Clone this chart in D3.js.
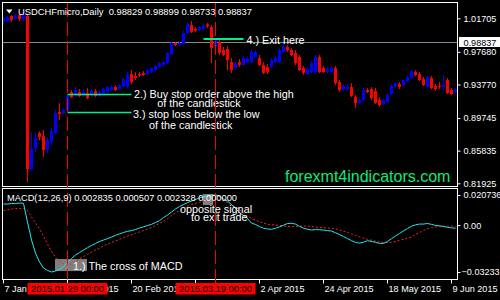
<!DOCTYPE html>
<html><head><meta charset="utf-8">
<script src="https://cdn.jsdelivr.net/npm/d3@7"></script>
<style>html,body{margin:0;padding:0;background:#000;overflow:hidden}</style>
</head><body><svg id="c" width="500" height="300"></svg>
<script>
// ---------- data ----------
const barCount = 114;
const extraSundays = ["2015-03-08", "2015-03-15", "2015-03-22"];
const openP = [1.0126,1.0138,1.0198,1.0162,1.0210,1.0150,1.0198,0.8362,0.8614,0.8794,0.8758,0.8590,0.8686,0.8794,0.9046,0.9034,0.9070,0.9286,0.9250,0.9286,0.9250,0.9274,0.9250,0.9298,0.9238,0.9274,0.9286,0.9310,0.9346,0.9322,0.9358,0.9346,0.9502,0.9478,0.9502,0.9514,0.9502,0.9526,0.9550,0.9586,0.9610,0.9634,0.9742,0.9874,0.9850,0.9862,0.9994,1.0090,1.0042,1.0030,1.0042,1.0096,1.0066,0.9826,0.9886,0.9790,0.9802,0.9646,0.9574,0.9646,0.9610,0.9646,0.9646,0.9706,0.9694,0.9610,0.9586,0.9586,0.9646,0.9646,0.9766,0.9826,0.9790,0.9754,0.9706,0.9574,0.9502,0.9526,0.9526,0.9706,0.9574,0.9526,0.9526,0.9574,0.9406,0.9310,0.9322,0.9346,0.9226,0.9154,0.9190,0.9310,0.9322,0.9298,0.9190,0.9142,0.9166,0.9262,0.9358,0.9382,0.9370,0.9418,0.9454,0.9526,0.9502,0.9442,0.9346,0.9454,0.9358,0.9358,0.9346,0.9430,0.9310,0.9286];
const highP = [1.0186,1.0198,1.0210,1.0222,1.0222,1.0234,1.0210,0.8806,0.8806,0.8818,0.8830,0.8746,0.8854,0.9070,0.9154,0.9094,0.9258,0.9310,0.9346,0.9322,0.9322,0.9334,0.9322,0.9322,0.9310,0.9334,0.9358,0.9370,0.9370,0.9382,0.9454,0.9526,0.9550,0.9526,0.9526,0.9538,0.9562,0.9586,0.9610,0.9646,0.9658,0.9766,0.9886,0.9886,0.9886,1.0018,1.0126,1.0138,1.0066,1.0078,1.0102,1.0114,1.0090,0.9934,0.9910,0.9826,0.9838,0.9694,0.9646,0.9682,0.9718,0.9706,0.9790,0.9790,0.9730,0.9646,0.9622,0.9694,0.9718,0.9814,0.9874,0.9850,0.9814,0.9790,0.9730,0.9598,0.9586,0.9658,0.9730,0.9730,0.9598,0.9586,0.9598,0.9598,0.9430,0.9382,0.9370,0.9394,0.9250,0.9214,0.9334,0.9334,0.9346,0.9334,0.9226,0.9202,0.9274,0.9382,0.9406,0.9406,0.9442,0.9478,0.9550,0.9550,0.9526,0.9466,0.9478,0.9478,0.9382,0.9406,0.9490,0.9454,0.9334,0.9334];
const lowP = [1.0090,1.0126,1.0126,1.0150,1.0138,1.0138,0.8206,0.8350,0.8566,0.8710,0.8506,0.8554,0.8650,0.8782,0.8950,0.9022,0.9042,0.9214,0.9226,0.9226,0.9226,0.9202,0.9226,0.9226,0.9226,0.9262,0.9274,0.9298,0.9298,0.9310,0.9346,0.9334,0.9382,0.9430,0.9466,0.9478,0.9490,0.9514,0.9538,0.9574,0.9598,0.9622,0.9730,0.9838,0.9838,0.9850,0.9982,0.9994,1.0006,1.0018,1.0030,1.0054,0.9634,0.9814,0.9730,0.9718,0.9550,0.9514,0.9550,0.9586,0.9598,0.9634,0.9634,0.9694,0.9598,0.9502,0.9502,0.9574,0.9634,0.9634,0.9754,0.9766,0.9718,0.9610,0.9538,0.9490,0.9490,0.9514,0.9502,0.9514,0.9514,0.9514,0.9514,0.9370,0.9286,0.9298,0.9310,0.9226,0.9094,0.9142,0.9178,0.9274,0.9190,0.9142,0.9106,0.9130,0.9154,0.9250,0.9346,0.9322,0.9358,0.9406,0.9442,0.9478,0.9418,0.9358,0.9334,0.9322,0.9298,0.9322,0.9310,0.9262,0.9250,0.9274];
const closeP = [1.0174,1.0186,1.0150,1.0210,1.0162,1.0210,0.8362,0.8602,0.8734,0.8746,0.8590,0.8710,0.8818,0.9034,0.9022,0.9070,0.9238,0.9226,0.9310,0.9238,0.9286,0.9214,0.9298,0.9238,0.9286,0.9322,0.9346,0.9346,0.9310,0.9370,0.9442,0.9490,0.9406,0.9454,0.9484,0.9490,0.9550,0.9574,0.9598,0.9634,0.9646,0.9754,0.9874,0.9850,0.9874,0.9994,1.0102,1.0006,1.0024,1.0066,1.0078,1.0072,0.9814,0.9910,0.9754,0.9730,0.9670,0.9550,0.9622,0.9610,0.9694,0.9682,0.9766,0.9766,0.9610,0.9514,0.9526,0.9670,0.9694,0.9790,0.9826,0.9790,0.9730,0.9634,0.9550,0.9514,0.9562,0.9634,0.9706,0.9526,0.9526,0.9562,0.9574,0.9394,0.9310,0.9358,0.9346,0.9238,0.9154,0.9190,0.9310,0.9286,0.9214,0.9154,0.9130,0.9190,0.9250,0.9358,0.9394,0.9346,0.9430,0.9466,0.9538,0.9490,0.9430,0.9370,0.9466,0.9334,0.9322,0.9346,0.9370,0.9274,0.9262,0.9322];
const macdMain = [0.0145,0.0145,0.0149,0.0149,0.0152,0.0150,0.0021,-0.0103,-0.0193,-0.0255,-0.0296,-0.0312,-0.032331,-0.0316,-0.0306,-0.0286,-0.0258,-0.0230,-0.0206,-0.0189,-0.0172,-0.0156,-0.0140,-0.0127,-0.0113,-0.0103,-0.0093,-0.0082,-0.0071,-0.0060,-0.0051,-0.0043,-0.0038,-0.0031,-0.0020,-0.0012,-0.0003,0.0005,0.0018,0.0031,0.0052,0.0069,0.0090,0.0111,0.0128,0.0142,0.0155,0.0166,0.0176,0.0188,0.0195,0.0200,0.0205,0.020736,0.0197,0.0179,0.0166,0.0142,0.0114,0.0086,0.0066,0.0045,0.0014,0.0004,-0.0010,-0.0022,-0.0027,-0.0029,-0.0022,-0.0012,-0.0001,0.0011,0.0012,0.0007,-0.0009,-0.0022,-0.0029,-0.0034,-0.0031,-0.0032,-0.0034,-0.0038,-0.0041,-0.0053,-0.0065,-0.0079,-0.0093,-0.0107,-0.0120,-0.0124,-0.0118,-0.0108,-0.0112,-0.0119,-0.0126,-0.0126,-0.0113,-0.0094,-0.0075,-0.0058,-0.0040,-0.0024,-0.0008,0.0002,0.0007,0.0007,0.0011,0.0005,-0.0002,-0.0005,-0.0010,-0.0015,-0.0019,-0.0022];
const macdSignal = [0.0099,0.0105,0.0111,0.0114,0.0115,0.0115,0.0100,0.0055,0.0014,-0.0027,-0.0075,-0.0131,-0.0182,-0.0220,-0.0248,-0.0268,-0.0275,-0.0268,-0.0251,-0.0233,-0.0217,-0.0200,-0.0186,-0.0172,-0.0160,-0.0144,-0.0131,-0.0120,-0.0109,-0.0098,-0.0086,-0.0075,-0.0067,-0.0057,-0.0048,-0.0038,-0.0027,-0.0017,-0.0003,0.0011,0.0028,0.0045,0.0066,0.0083,0.0100,0.0117,0.0131,0.0142,0.0148,0.0157,0.0164,0.0170,0.0175,0.0176,0.0173,0.0166,0.0155,0.0142,0.0124,0.0104,0.0083,0.0062,0.0045,0.0035,0.0022,0.0013,0.0006,0.0003,0.0000,-0.0003,-0.0006,-0.0009,-0.0011,-0.0010,-0.0007,-0.0007,-0.0007,-0.0011,-0.0013,-0.0016,-0.0018,-0.0020,-0.0022,-0.0027,-0.0033,-0.0042,-0.0051,-0.0060,-0.0072,-0.0082,-0.0090,-0.0098,-0.0104,-0.0111,-0.0117,-0.0121,-0.0120,-0.0118,-0.0113,-0.0105,-0.0098,-0.0091,-0.0081,-0.0065,-0.0051,-0.0038,-0.0026,-0.0017,-0.0012,-0.0010,-0.0007,-0.0007,-0.0007,-0.0010];
const priceTicks = [1.01705, 0.97680, 0.93770, 0.89745, 0.85835, 0.81925];
const macdTicks = [0.020736, 0.00, -0.032331];
const timeTickIdx = [0, 16, 32, 48, 64, 80, 96, 112];
const timeTickLabels = ["7 Jan", "29 Jan 2015", "20 Feb 2015", "13 Mar 2015", "2 Apr 2015", "24 Apr 2015", "18 May 2015", "9 Jun 2015"];
const currentPrice = 0.98837;
const titleText = "USDCHFmicro,Daily  0.98829 0.98899 0.98733 0.98837";
const macdTitle = "MACD(12,26,9) 0.002835 0.000507 0.002328 0.000000";
const vLineIdx = [16, 53];
const vLineLabels = ["2015.01.29 00:00", "2015.03.19 00:00"];
const greenLines = [{i0:16, i1:32, p:0.9258}, {i0:16, i1:32, p:0.9042}, {i0:50, i1:60, p:0.9922}];
const priceNotes = [
  {i:33, p:0.9214, t:"2.) Buy stop order above the high"},
  {i:38.8, p:0.9106, t:"of the candlestick"},
  {i:32.75, p:0.8974, t:"3.) stop loss below the low"},
  {i:36.75, p:0.8842, t:"of the candlestick"},
  {i:61.1, p:0.9862, t:"4.) Exit here"}];
const macdNotes = [
  {i:17.75, v:-0.03128, t:"1.) The cross of MACD"},
  {i:44.5, v:0.00833, t:"opposite signal"},
  {i:47.25, v:0.00282, t:"to exit trade"}];
const macdBoxes = [{i0:13.25, i1:21.25, v0:-0.0317, v1:-0.0234}, {i0:50.2, i1:52.8, v0:0.0138, v1:0.0214}];

// ---------- build ----------
const dates = [];
let dt = new Date(Date.UTC(2015, 0, 7));
while (dates.length < barCount) {
  const iso = dt.toISOString().slice(0, 10), wd = dt.getUTCDay();
  if ((wd > 0 && wd < 6) || extraSundays.includes(iso)) dates.push(iso);
  dt = new Date(dt.getTime() + 864e5);
}
const bars = dates.map((d, i) => ({d, o:openP[i], h:highP[i], l:lowP[i], c:closeP[i], m:macdMain[i], s:macdSignal[i]}));

const svg = d3.select("#c");
const FONT = "'Liberation Sans', Arial, sans-serif";
const L = 2.5, R = 457.5, T1 = 2.5, B1 = 186.5, T2 = 188.5, B2 = 279.5;

const x = d3.scaleBand().domain(dates).range([2, 2 + 4 * barCount]).paddingInner(0).paddingOuter(0);
const xAt = i => x(dates[Math.floor(i)]) + (i % 1) * x.step();
const y = d3.scaleLinear().domain([0.81925, 1.01705]).range([183.3, 18.3]);
const ym = d3.scaleLinear().domain([-0.032331, 0.020736]).range([272, 195]);

svg.append("rect").attr("width", 500).attr("height", 300).attr("fill", "#000");
const defs = svg.append("defs");
defs.append("clipPath").attr("id", "cm").append("rect").attr("x", 3).attr("y", 3).attr("width", 454).attr("height", 183);
defs.append("clipPath").attr("id", "cd").append("rect").attr("x", 3).attr("y", 189).attr("width", 454).attr("height", 90);

// frames
svg.append("rect").attr("x", L).attr("y", T1).attr("width", R - L).attr("height", B1 - T1).attr("fill", "none").attr("stroke", "#fff");
svg.append("rect").attr("x", L).attr("y", T2).attr("width", R - L).attr("height", B2 - T2).attr("fill", "none").attr("stroke", "#fff");

const gm = svg.append("g").attr("clip-path", "url(#cm)");
// current price line
gm.append("line").attr("x1", L).attr("x2", R).attr("y1", Math.round(y(currentPrice)) + 0.5).attr("y2", Math.round(y(currentPrice)) + 0.5).attr("stroke", "#7f8b9b");

// candles
const col = b => b.c >= b.o ? "#0000ff" : "#ff0000";
gm.selectAll("line.wick").data(bars).join("line").attr("class", "wick")
  .attr("x1", b => x(b.d) + 1.5).attr("x2", b => x(b.d) + 1.5)
  .attr("y1", b => y(b.h)).attr("y2", b => y(b.l)).attr("stroke", col);
gm.selectAll("rect.body").data(bars).join("rect").attr("class", "body")
  .attr("x", b => x(b.d)).attr("width", 3)
  .attr("y", b => Math.min(y(b.o), y(b.c)))
  .attr("height", b => Math.max(1, Math.abs(y(b.o) - y(b.c))))
  .attr("fill", col);

// green trend lines
gm.selectAll("line.gl").data(greenLines).join("line").attr("class", "gl")
  .attr("x1", g => x(dates[g.i0]) + 1.5).attr("x2", g => x(dates[g.i1]) + 1.5)
  .attr("y1", g => y(g.p)).attr("y2", g => y(g.p))
  .attr("stroke", "#00f080").attr("stroke-width", (g, i) => i === 2 ? 2 : 1.5);

// watermark
svg.append("text").attr("x", xAt(70.75)).attr("y", y(0.8206)).text("forexmt4indicators.com")
  .attr("font-family", FONT).attr("font-size", 16).attr("fill", "#10e878");

// notes in main window
svg.selectAll("text.pn").data(priceNotes).join("text").attr("class", "pn")
  .attr("x", n => xAt(n.i)).attr("y", n => y(n.p)).text(n => n.t)
  .attr("font-family", FONT).attr("font-size", 10.8).attr("fill", "#fff");

// MACD
const gd = svg.append("g").attr("clip-path", "url(#cd)");
gd.selectAll("rect.box").data(macdBoxes).join("rect").attr("class", "box")
  .attr("x", b => xAt(b.i0)).attr("width", b => xAt(b.i1) - xAt(b.i0))
  .attr("y", b => ym(b.v1)).attr("height", b => ym(b.v0) - ym(b.v1)).attr("fill", "#808080");
gd.append("path").datum(bars).attr("fill", "none").attr("stroke", "#ff2020").attr("stroke-dasharray", "2,2")
  .attr("d", d3.line().x(b => x(b.d) + 1.5).y(b => ym(b.s)));
gd.append("path").datum(bars).attr("fill", "none").attr("stroke", "#20e8f0")
  .attr("d", d3.line().x(b => x(b.d) + 1.5).y(b => ym(b.m)));

svg.selectAll("text.mn").data(macdNotes).join("text").attr("class", "mn")
  .attr("x", n => xAt(n.i)).attr("y", n => ym(n.v)).text(n => n.t)
  .attr("font-family", FONT).attr("font-size", 10.8).attr("fill", "#fff");

// vertical dashed lines
svg.selectAll("line.vl").data(vLineIdx).join("line").attr("class", "vl")
  .attr("x1", i => x(dates[i]) + 1.5).attr("x2", i => x(dates[i]) + 1.5)
  .attr("y1", 3).attr("y2", 283).attr("stroke", "#ff0000").attr("stroke-dasharray", "14,5");

// headers
svg.append("path").attr("d", "M6,9.5L12.5,9.5L9.25,13.5Z").attr("fill", "#fff");
svg.append("text").attr("x", 18).attr("y", 14.5).text(titleText).attr("xml:space", "preserve").style("white-space", "pre")
  .attr("font-family", FONT).attr("font-size", 9.4).attr("fill", "#fff");
svg.append("text").attr("x", 7).attr("y", 200.5).text(macdTitle)
  .attr("font-family", FONT).attr("font-size", 9.3).attr("fill", "#fff");

// price axis
const ay = svg.append("g").attr("transform", `translate(${R},0)`)
  .call(d3.axisRight(y).tickValues(priceTicks).tickFormat(d3.format(".5f")).tickSize(3));
const aym = svg.append("g").attr("transform", `translate(${R},0)`)
  .call(d3.axisRight(ym).tickValues(macdTicks).tickFormat(v => v === 0 ? "0.00" : d3.format(".6f")(v)).tickSize(3));
aym.selectAll(".tick").filter(v => v < 0).select("text").attr("x", 4);
// time axis
const ax = svg.append("g").attr("transform", `translate(0,${B2})`)
  .call(d3.axisBottom(x).tickValues(timeTickIdx.map(i => dates[i])).tickFormat((d, k) => timeTickLabels[k]).tickSize(4));
ax.selectAll(".tick").attr("transform", d => `translate(${x(d) + 1.5},0)`);
ax.selectAll("text").attr("text-anchor", "start").attr("x", 1).attr("y", 6).attr("dy", "0.71em");
for (const a of [ay, aym, ax]) {
  a.select(".domain").remove();
  a.selectAll("line").attr("stroke", "#fff");
  a.selectAll("text").attr("fill", "#fff").attr("font-family", FONT).attr("font-size", 9.1);
}

// current price label
const cy = Math.round(y(currentPrice));
svg.append("rect").attr("x", 459).attr("y", cy - 5).attr("width", 41).attr("height", 10).attr("fill", "#fff");
svg.append("text").attr("x", 463.5).attr("y", cy + 3.5).text(d3.format(".5f")(currentPrice))
  .attr("font-family", FONT).attr("font-size", 9.1).attr("fill", "#000");

// time labels of vertical lines
vLineIdx.forEach((i, k) => {
  const cx = x(dates[i]) + 1.5;
  svg.append("rect").attr("x", cx - 40).attr("y", 283).attr("width", 80).attr("height", 11.5).attr("fill", "#ff0000");
  svg.append("text").attr("x", cx).attr("y", 292.3).attr("text-anchor", "middle").text(vLineLabels[k])
    .attr("font-family", FONT).attr("font-size", 9.4).attr("fill", "#000");
});
</script></body></html>
